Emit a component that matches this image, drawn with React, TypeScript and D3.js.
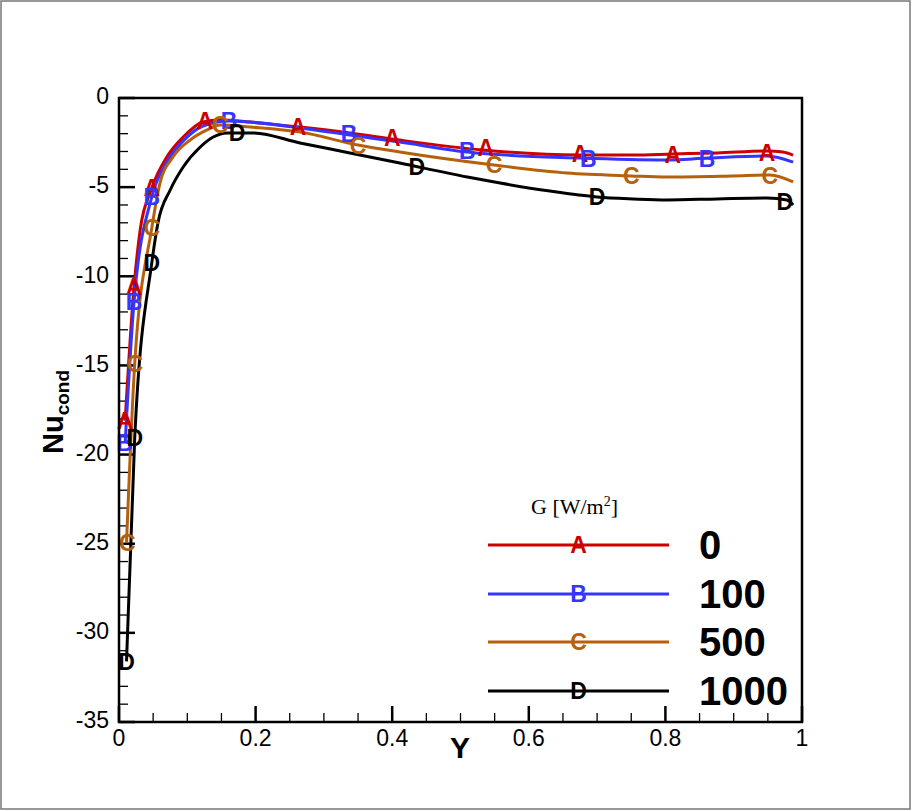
import React from "react";
import * as d3 from "d3";

// Nu_cond profiles vs Y, one series per irradiation level G
const yA = [0.009, 0.022, 0.031, 0.048, 0.07, 0.094, 0.123, 0.148, 0.192, 0.265, 0.338, 0.411, 0.533, 0.675, 0.753, 0.811, 0.876, 0.949, 0.972, 0.987];
const nuA = [-18.1, -10.6, -7.4, -5.05, -3.31, -2.19, -1.35, -1.23, -1.35, -1.63, -1.96, -2.36, -2.92, -3.2, -3.2, -3.14, -3.08, -2.97, -3.03, -3.2];

const yB = [0.009, 0.022, 0.048, 0.07, 0.094, 0.123, 0.161, 0.192, 0.265, 0.338, 0.411, 0.51, 0.675, 0.802, 0.861, 0.949, 0.987];
const nuB = [-19.35, -11.44, -5.55, -3.59, -2.41, -1.57, -1.29, -1.35, -1.68, -2.08, -2.47, -3.03, -3.37, -3.48, -3.37, -3.25, -3.6];

const yC = [0.011, 0.023, 0.048, 0.06, 0.079, 0.104, 0.129, 0.148, 0.192, 0.265, 0.35, 0.411, 0.549, 0.656, 0.75, 0.802, 0.899, 0.953, 0.987];
const nuC = [-24.96, -14.92, -7.29, -4.77, -3.31, -2.36, -1.79, -1.51, -1.63, -1.91, -2.64, -3.03, -3.76, -4.21, -4.37, -4.43, -4.37, -4.32, -4.71];

const yD = [0.011, 0.023, 0.048, 0.057, 0.075, 0.094, 0.119, 0.138, 0.158, 0.196, 0.265, 0.338, 0.411, 0.51, 0.558, 0.631, 0.7, 0.753, 0.802, 0.876, 0.949, 0.978, 0.987];
const nuD = [-31.6, -19.07, -9.25, -7.01, -5.16, -3.87, -2.75, -2.19, -1.96, -1.96, -2.52, -3.08, -3.65, -4.43, -4.77, -5.22, -5.55, -5.66, -5.72, -5.66, -5.61, -5.72, -6.0];

// symbol positions along each line
const markA_Y = [0.009, 0.022, 0.048, 0.126, 0.262, 0.4, 0.537, 0.675, 0.811, 0.949];
const markA_Nu = [-18.1, -10.6, -5.05, -1.3, -1.6, -2.2, -2.8, -3.15, -3.2, -3.05];
const markB_Y = [0.008, 0.022, 0.048, 0.161, 0.337, 0.51, 0.687, 0.861];
const markB_Nu = [-19.35, -11.44, -5.55, -1.29, -2.0, -2.95, -3.4, -3.4];
const markC_Y = [0.012, 0.023, 0.048, 0.148, 0.35, 0.549, 0.75, 0.953];
const markC_Nu = [-24.96, -14.92, -7.29, -1.51, -2.68, -3.76, -4.37, -4.35];
const markD_Y = [0.011, 0.023, 0.048, 0.173, 0.436, 0.7, 0.975];
const markD_Nu = [-31.6, -19.07, -9.25, -1.96, -3.87, -5.55, -5.83];

const seriesLabels = ["0", "100", "500", "1000"];
const seriesSymbols = ["A", "B", "C", "D"];
const seriesColors = ["#cc0000", "#3535ff", "#b5600c", "#000000"];

const xTicks = [0, 0.2, 0.4, 0.6, 0.8, 1];
const yTicks = [0, -5, -10, -15, -20, -25, -30, -35];

const W = 912;
const H = 811;
const plot = { left: 119, right: 802, top: 98, bottom: 722 };

const App: React.FC = () => {
  const x = d3.scaleLinear().domain([0, 1]).range([plot.left, plot.right]);
  const y = d3.scaleLinear().domain([-35, 0]).range([plot.bottom, plot.top]);

  const lines = [
    { ys: yA, nus: nuA, mY: markA_Y, mNu: markA_Nu },
    { ys: yB, nus: nuB, mY: markB_Y, mNu: markB_Nu },
    { ys: yC, nus: nuC, mY: markC_Y, mNu: markC_Nu },
    { ys: yD, nus: nuD, mY: markD_Y, mNu: markD_Nu },
  ];

  const lineGen = d3
    .line<[number, number]>()
    .x((d) => x(d[0]))
    .y((d) => y(d[1]))
    .curve(d3.curveMonotoneX);

  const minorX = d3.range(0, 1.0001, 0.05).filter((v) => Math.abs(v * 5 - Math.round(v * 5)) > 1e-6);
  const minorY = d3.range(-35, 0.001, 1).filter((v) => v % 5 !== 0);

  const legendX0 = 488;
  const legendX1 = 669;
  const legendY = [545, 594, 642, 691];

  const tickFont = "'Liberation Sans', Arial, Helvetica, sans-serif";

  return (
    <div style={{ position: "absolute", left: 0, top: 0 }}>
      <svg width={W} height={H} style={{ display: "block", background: "#fff" }}>
        <rect x={1} y={1} width={909} height={808} fill="#fff" stroke="#777" strokeWidth={1.5} />

        {/* ticks */}
        {minorX.map((v) => (
          <line key={"mx" + v} x1={x(v)} x2={x(v)} y1={plot.bottom} y2={plot.bottom - 9} stroke="#000" strokeWidth={1.3} />
        ))}
        {xTicks.map((v) => (
          <line key={"Mx" + v} x1={x(v)} x2={x(v)} y1={plot.bottom} y2={plot.bottom - 16} stroke="#000" strokeWidth={2.5} />
        ))}
        {minorY.map((v) => (
          <line key={"my" + v} x1={plot.left} x2={plot.left + 9} y1={y(v)} y2={y(v)} stroke="#000" strokeWidth={1.3} />
        ))}
        {yTicks.map((v) => (
          <line key={"My" + v} x1={plot.left} x2={plot.left + 16} y1={y(v)} y2={y(v)} stroke="#000" strokeWidth={2.5} />
        ))}

        {/* curves */}
        {lines.map((s, i) => (
          <path
            key={"l" + i}
            d={lineGen(s.ys.map((v, j) => [v, s.nus[j]] as [number, number])) || ""}
            fill="none"
            stroke={seriesColors[i]}
            strokeWidth={3}
            strokeLinejoin="round"
          />
        ))}
        {lines.map((s, i) =>
          s.mY.map((v, j) => (
            <text
              key={"m" + i + "-" + j}
              x={x(v)}
              y={y(s.mNu[j])}
              dy="0.36em"
              textAnchor="middle"
              fontFamily={tickFont}
              fontWeight="bold"
              fontSize={23}
              fill={seriesColors[i]}
            >
              {seriesSymbols[i]}
            </text>
          ))
        )}

        {/* frame */}
        <rect
          x={plot.left}
          y={plot.top}
          width={plot.right - plot.left}
          height={plot.bottom - plot.top}
          fill="none"
          stroke="#000"
          strokeWidth={2.5}
        />

        {/* tick labels */}
        {xTicks.map((v) => (
          <text key={"tx" + v} x={x(v)} y={746} textAnchor="middle" fontFamily={tickFont} fontSize={23} fill="#000">
            {String(v)}
          </text>
        ))}
        {yTicks.map((v) => (
          <text key={"ty" + v} x={109} y={y(v) - 2} dy="0.36em" textAnchor="end" fontFamily={tickFont} fontSize={23} fill="#000">
            {String(v)}
          </text>
        ))}

        {/* axis titles */}
        <text x={460} y={758} textAnchor="middle" fontFamily={tickFont} fontWeight="bold" fontSize={30} fill="#000">
          Y
        </text>
        <text
          transform="translate(63,412) rotate(-90)"
          textAnchor="middle"
          fontFamily={tickFont}
          fontWeight="bold"
          fill="#000"
        >
          <tspan fontSize={29}>Nu</tspan>
          <tspan fontSize={19} dy={6}>cond</tspan>
        </text>

        {/* legend */}
        <text x={531} y={514} fontFamily="'Liberation Serif', 'Times New Roman', serif" fontSize={22} fill="#000">
          G [W/m<tspan fontSize={14} dy={-8}>2</tspan>
          <tspan dy={8}>]</tspan>
        </text>
        {seriesLabels.map((lab, i) => (
          <g key={"lg" + i}>
            <line x1={legendX0} x2={legendX1} y1={legendY[i]} y2={legendY[i]} stroke={seriesColors[i]} strokeWidth={3} />
            <text
              x={(legendX0 + legendX1) / 2}
              y={legendY[i]}
              dy="0.36em"
              textAnchor="middle"
              fontFamily={tickFont}
              fontWeight="bold"
              fontSize={23}
              fill={seriesColors[i]}
            >
              {seriesSymbols[i]}
            </text>
            <text
              x={699}
              y={legendY[i]}
              dy="0.36em"
              fontFamily={tickFont}
              fontWeight="bold"
              fontSize={40}
              fill="#000"
            >
              {lab}
            </text>
          </g>
        ))}
      </svg>
    </div>
  );
};

export default App;
